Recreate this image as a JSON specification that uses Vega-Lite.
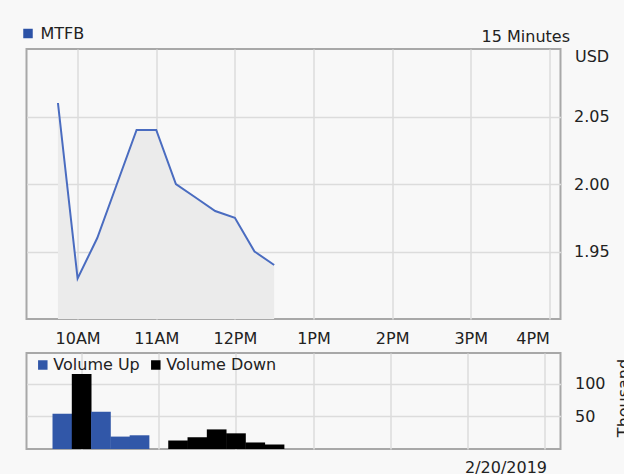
{
  "$schema": "https://vega.github.io/schema/vega-lite/v6.json",
  "background": "#f8f8f8",
  "padding": {"left": 18.5, "top": 24, "right": 0, "bottom": 0},
  "config": {
    "font": "DejaVu Sans",
    "view": {"stroke": "#a8a8a8", "strokeWidth": 2},
    "axis": {
      "labelFont": "DejaVu Sans", "labelFontSize": 16, "labelColor": "#222222",
      "titleFont": "DejaVu Sans", "titleFontSize": 16, "titleFontWeight": "normal", "titleColor": "#222222",
      "gridColor": "#dcdcdc", "gridWidth": 1.5, "ticks": false, "domain": false, "labelOverlap": false
    },
    "legend": {"labelFont": "DejaVu Sans", "labelFontSize": 16, "labelColor": "#222222", "padding": 0}
  },
  "datasets": {
    "price": [
      {"t": "2019-02-20T09:45:00", "p": 2.06},
      {"t": "2019-02-20T10:00:00", "p": 1.93},
      {"t": "2019-02-20T10:15:00", "p": 1.96},
      {"t": "2019-02-20T10:30:00", "p": 2.00},
      {"t": "2019-02-20T10:45:00", "p": 2.04},
      {"t": "2019-02-20T11:00:00", "p": 2.04},
      {"t": "2019-02-20T11:15:00", "p": 2.00},
      {"t": "2019-02-20T11:30:00", "p": 1.99},
      {"t": "2019-02-20T11:45:00", "p": 1.98},
      {"t": "2019-02-20T12:00:00", "p": 1.975},
      {"t": "2019-02-20T12:15:00", "p": 1.95},
      {"t": "2019-02-20T12:30:00", "p": 1.94}
    ],
    "volume": [
      {"t": "2019-02-20T09:45:00", "v": 54, "dir": "Volume Up"},
      {"t": "2019-02-20T10:00:00", "v": 115, "dir": "Volume Down"},
      {"t": "2019-02-20T10:15:00", "v": 57, "dir": "Volume Up"},
      {"t": "2019-02-20T10:30:00", "v": 19, "dir": "Volume Up"},
      {"t": "2019-02-20T10:45:00", "v": 21, "dir": "Volume Up"},
      {"t": "2019-02-20T11:15:00", "v": 13, "dir": "Volume Down"},
      {"t": "2019-02-20T11:30:00", "v": 18, "dir": "Volume Down"},
      {"t": "2019-02-20T11:45:00", "v": 30, "dir": "Volume Down"},
      {"t": "2019-02-20T12:00:00", "v": 24, "dir": "Volume Down"},
      {"t": "2019-02-20T12:15:00", "v": 10, "dir": "Volume Down"},
      {"t": "2019-02-20T12:30:00", "v": 7, "dir": "Volume Down"}
    ]
  },
  "vconcat": [
    {
      "width": 534,
      "height": 270,
      "data": {"name": "price"},
      "encoding": {
        "y": {
          "field": "p", "type": "quantitative",
          "scale": {"domain": [1.9, 2.1]},
          "axis": {"orient": "right", "values": [1.95, 2.0, 2.05], "format": ".2f", "labelPadding": 13,
                   "title": "USD", "titleAngle": 0, "titleAlign": "left", "titleBaseline": "middle", "titleX": 14, "titleY": 7}
        }
      },
      "layer": [
        {
          "mark": {"type": "area", "color": "#ebebeb", "opacity": 1, "clip": true},
          "encoding": {
            "x": {
              "field": "t", "type": "temporal",
              "scale": {"domain": [
                {"year": 2019, "month": 2, "date": 20, "hours": 9, "minutes": 21},
                {"year": 2019, "month": 2, "date": 20, "hours": 16, "minutes": 8, "seconds": 30}
              ]},
              "axis": {"title": null, "format": "%-I%p", "labelPadding": 11, "labelFlush": 15,
                       "values": [
                         {"year": 2019, "month": 2, "date": 20, "hours": 10},
                         {"year": 2019, "month": 2, "date": 20, "hours": 11},
                         {"year": 2019, "month": 2, "date": 20, "hours": 12},
                         {"year": 2019, "month": 2, "date": 20, "hours": 13},
                         {"year": 2019, "month": 2, "date": 20, "hours": 14},
                         {"year": 2019, "month": 2, "date": 20, "hours": 15},
                         {"year": 2019, "month": 2, "date": 20, "hours": 16}
                       ]}
            }
          }
        },
        {
          "mark": {"type": "line", "strokeWidth": 2},
          "encoding": {
            "x": {
              "field": "t", "type": "temporal",
              "axis": {"orient": "top", "labels": false, "grid": false, "title": "15 Minutes",
                       "titleAlign": "right", "titleBaseline": "alphabetic", "titleX": 543, "titleY": -7.5}
            },
            "color": {
              "datum": "MTFB",
              "scale": {"range": ["#4a6cc0"]},
              "legend": {
                "title": null, "orient": "none", "legendX": -6.5, "legendY": -23.5,
                "symbolType": "square", "symbolSize": 90, "labelOffset": 4.5,
                "symbolFillColor": "#2c52a6", "symbolStrokeColor": "#2c52a6", "symbolStrokeWidth": 0
              }
            }
          }
        }
      ],
      "resolve": {"axis": {"x": "independent"}}
    },
    {
      "width": 534,
      "height": 96,
      "data": {"name": "volume"},
      "mark": {"type": "bar", "width": 19.7},
      "encoding": {
        "x": {
          "field": "t", "type": "temporal",
          "scale": {"domain": [
            {"year": 2019, "month": 2, "date": 20, "hours": 9, "minutes": 21},
            {"year": 2019, "month": 2, "date": 20, "hours": 16, "minutes": 8, "seconds": 30}
          ]},
          "axis": {"labels": false,
                   "values": [
                     {"year": 2019, "month": 2, "date": 20, "hours": 10},
                     {"year": 2019, "month": 2, "date": 20, "hours": 11},
                     {"year": 2019, "month": 2, "date": 20, "hours": 12},
                     {"year": 2019, "month": 2, "date": 20, "hours": 13},
                     {"year": 2019, "month": 2, "date": 20, "hours": 14},
                     {"year": 2019, "month": 2, "date": 20, "hours": 15},
                     {"year": 2019, "month": 2, "date": 20, "hours": 16}
                   ],
                   "title": "2/20/2019", "titleAlign": "right", "titleX": 520, "titleY": 10, "titleBaseline": "top"}
        },
        "y": {
          "field": "v", "type": "quantitative",
          "scale": {"domain": [0, 147]},
          "axis": {"orient": "right", "values": [50, 100], "labelPadding": 14,
                   "title": "Thousand", "titleAngle": 270, "titleX": 63, "titleY": 44.5, "titleBaseline": "middle", "titleAlign": "center"}
        },
        "color": {
          "field": "dir", "type": "nominal",
          "scale": {"domain": ["Volume Up", "Volume Down"], "range": ["#3157a8", "#000000"]},
          "legend": {"title": null, "orient": "none", "direction": "horizontal", "legendX": 8.3, "legendY": 4,
                     "symbolType": "square", "symbolSize": 90, "labelOffset": 2.5, "columnPadding": 8}
        }
      }
    }
  ],
  "spacing": 5,
  "resolve": {"scale": {"color": "independent"}, "legend": {"color": "independent"}}
}
